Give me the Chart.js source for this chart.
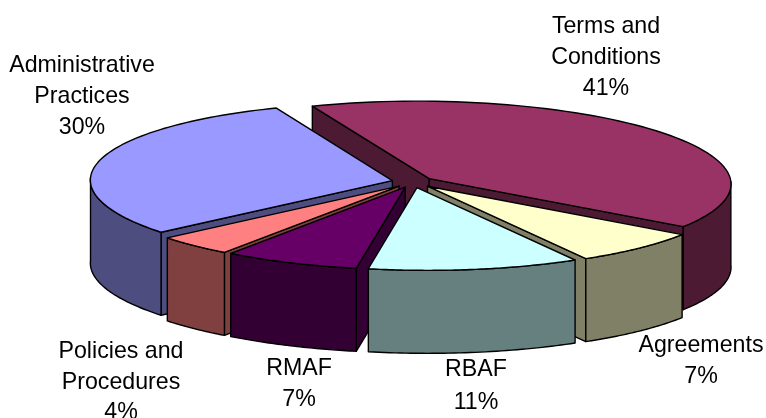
<!DOCTYPE html>
<html>
<head>
<meta charset="utf-8">
<style>html,body{margin:0;padding:0;background:#fff}canvas{display:block}</style>
<script src="https://cdn.jsdelivr.net/npm/chart.js@4"></script>
</head>
<body>
<canvas id="pie" width="766" height="418"></canvas>
<script>
// Share of items per category, clockwise from the tilted start edge
const categories = ['Terms and Conditions', 'Agreements', 'RBAF', 'RMAF', 'Policies and Procedures', 'Administrative Practices'];
const shares = [41, 7, 11, 7, 4, 30];
const topColors = ['#993366', '#FFFFCC', '#CCFFFF', '#660066', '#FF8080', '#9999FF'];
const wallColors = ['#4D1A33', '#808066', '#668080', '#330033', '#804040', '#4D4D80'];

// Wrapped caption lines and their centres on the page
const captionLines = [['Terms and', 'Conditions'], ['Agreements'], ['RBAF'], ['RMAF'], ['Policies and', 'Procedures'], ['Administrative', 'Practices']];
const captionX = [606, 701, 476, 299, 121, 82];
const captionY = [27, 346, 370, 369, 352, 66];
const captionGap = [31, 31, 33, 31, 30.5, 31];

// Projection of the flat pie onto the tilted disc
const disc = {cx: 413, cy: 182, rx: 302, ry: 80, depth: 83, explode: 0.07, perspective: 0.03, roll: 3};

const explodedPie3d = {
  id: 'explodedPie3d',
  beforeDatasetsDraw(chart) {
    const ctx = chart.ctx;
    const arcs = chart.getDatasetMeta(0).data;
    const project = (u, v, z) => {
      const p = 1 + disc.perspective * v;
      return [disc.cx + disc.rx * u * p, disc.cy + disc.ry * v * p + disc.roll * u + z * disc.depth];
    };
    // Chart.js angles run from 3 o'clock; u/v are unit-disc coordinates
    const slices = arcs.map((arc, i) => {
      const a0 = arc.startAngle, a1 = arc.endAngle, mid = (a0 + a1) / 2;
      return {i, a0, a1, mid, ox: Math.cos(mid) * disc.explode, oy: Math.sin(mid) * disc.explode};
    });
    const fillPath = (points, fill) => {
      ctx.beginPath();
      points.forEach((q, k) => k ? ctx.lineTo(q[0], q[1]) : ctx.moveTo(q[0], q[1]));
      ctx.closePath();
      ctx.fillStyle = fill;
      ctx.fill();
      ctx.stroke();
    };
    ctx.save();
    ctx.strokeStyle = '#000';
    ctx.lineWidth = 1.4;
    ctx.lineJoin = 'round';
    // Paint back to front so nearer slices cover the ones behind them
    slices.slice().sort((s, t) => Math.sin(s.mid) - Math.sin(t.mid)).forEach(s => {
      const rim = (angle, z) => project(s.ox + Math.cos(angle), s.oy + Math.sin(angle), z);
      const apex = z => project(s.ox, s.oy, z);
      const wall = wallColors[s.i];
      // Radial cut faces, drawn when they turn toward the viewer
      if (Math.sin(s.a0 - Math.PI / 2) > 0) {
        fillPath([apex(0), rim(s.a0, 0), rim(s.a0, 1), apex(1)], wall);
      }
      if (Math.sin(s.a1 + Math.PI / 2) > 0) {
        fillPath([apex(0), rim(s.a1, 0), rim(s.a1, 1), apex(1)], wall);
      }
      // Curved outer wall, limited to the near half of the disc
      const visibleStart = Math.max(s.a0, 0);
      const visibleEnd = Math.min(s.a1, Math.PI);
      if (visibleEnd > visibleStart) {
        const upper = [], lower = [];
        const steps = 40;
        for (let k = 0; k <= steps; k++) {
          const a = visibleStart + (visibleEnd - visibleStart) * k / steps;
          upper.push(rim(a, 0));
          lower.unshift(rim(a, 1));
        }
        fillPath(upper.concat(lower), wall);
      }
      // Top surface
      const top = [apex(0)];
      const steps = 72;
      for (let k = 0; k <= steps; k++) {
        top.push(rim(s.a0 + (s.a1 - s.a0) * k / steps, 0));
      }
      fillPath(top, topColors[s.i]);
    });
    ctx.restore();
    return false;
  },
  // Captions go on last; a cancelled dataset pass skips the afterDatasetsDraw hook
  afterDraw(chart) {
    const ctx = chart.ctx;
    ctx.save();
    ctx.fillStyle = '#000';
    ctx.font = '23.2px "Liberation Sans", Arial, sans-serif';
    ctx.textAlign = 'center';
    ctx.textBaseline = 'middle';
    captionLines.forEach((lines, i) => {
      lines.concat(shares[i] + '%').forEach((line, k) => {
        ctx.fillText(line, captionX[i], captionY[i] + k * captionGap[i]);
      });
    });
    ctx.restore();
  }
};

new Chart(document.getElementById('pie'), {
  type: 'pie',
  data: {
    labels: categories,
    datasets: [{data: shares, backgroundColor: topColors, borderWidth: 0}]
  },
  options: {
    responsive: false,
    animation: false,
    rotation: -23.4,
    plugins: {legend: {display: false}, tooltip: {enabled: false}}
  },
  plugins: [explodedPie3d]
});
</script>
</body>
</html>
